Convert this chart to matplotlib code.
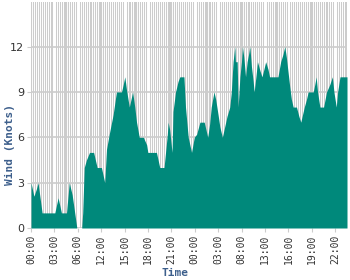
import matplotlib
matplotlib.use('Agg')
import matplotlib.pyplot as plt
from matplotlib.ticker import MultipleLocator, FixedLocator

# Breakpoints of the wind trace (sample index, knots)
sample_idx = [0, 1.5, 2.8, 3.6, 5.7, 12.2, 13.9, 15.6, 18.2, 19.6, 21.1, 23.5,
              26, 26.5, 27.3, 28.4, 30, 32.1, 33.9, 36.1, 37.8, 38.7, 40.1,
              42.1, 43.8, 46.4, 47.3, 48.1, 49, 50.4, 52.1, 53.2, 54.1, 55.5,
              57.6, 59.3, 59.9, 64.3, 66, 68.2, 68.9, 69.9, 70.3, 71.1, 72.3,
              72.8, 74.1, 75.4, 76.3, 78.4, 79.2, 80.6, 82.3, 83.7, 84.9,
              86.6, 88.8, 90.6, 91.6, 92.4, 93.8, 94.7, 95.9, 96.8, 98.1,
              99.3, 100.5, 101.9, 102.7, 103.6, 104.5, 104.8, 105.7, 106.2,
              107.1, 107.9, 108.4, 109.1, 110, 110.8, 111.7, 112.2, 113,
              113.9, 114.4, 115.3, 116.1, 117.4, 118.4, 119.4, 120.3, 121.5,
              122.3, 126.6, 128, 129.2, 130.1, 130.9, 131.8, 132.6, 133.5,
              134.4, 136.1, 137.3, 138.3, 140.1, 141.2, 142.1, 144.7, 145.5,
              146.2, 146.9, 148.1, 150, 151.5, 153.2, 154.5, 155.3, 156.5,
              157.2, 158.4, 162]
wind_knots = [3.0, 2.1, 2.6, 3.0, 1.0, 1.0, 2.0, 1.0, 1.0, 3.0, 2.2, 0.0,
              0.0, 1.0, 4.0, 4.5, 5.0, 5.0, 4.0, 4.0, 3.0, 5.2, 6.2,
              7.5, 9.0, 9.0, 9.5, 10.0, 9.1, 8.0, 9.0, 8.0, 7.0, 6.0,
              6.0, 5.5, 5.0, 5.0, 4.0, 4.0, 4.9, 6.2, 7.0, 6.5, 5.0,
              7.7, 9.0, 9.7, 10.0, 10.0, 8.0, 6.0, 5.0, 6.0, 6.2,
              7.0, 7.0, 6.0, 6.9, 8.0, 9.0, 8.5, 7.5, 6.7, 6.0,
              6.7, 7.4, 8.0, 9.0, 11.0, 12.0, 11.0, 11.0, 8.0,
              10.0, 11.0, 12.0, 11.3, 10.0, 11.0, 11.6, 12.0, 10.7,
              9.7, 9.0, 10.0, 11.0, 10.4, 10.0, 10.5, 11.0, 10.5,
              10.0, 10.0, 11.0, 11.5, 12.0, 11.3, 10.3, 9.4, 8.5,
              8.0, 8.0, 7.4, 7.0, 8.0, 8.5, 9.0, 9.0, 9.5,
              10.0, 9.0, 8.0, 8.0, 9.0, 9.5, 10.0, 9.0, 8.0,
              9.0, 10.0, 10.0]

tick_pos = [0, 12, 24, 36, 48, 60, 72, 84, 96, 108, 120, 132, 144, 156]
tick_labels = ['00:00', '03:00', '06:00', '12:00', '15:00', '18:00', '21:00',
               '00:00', '03:00', '08:00', '13:00', '16:00', '19:00', '22:00']

label_col = '#3d5f8c'
fill_col = '#00897b'
grid_col = '#cccccc'

fig = plt.figure(figsize=(3.5, 2.8), dpi=100)
ax = fig.add_axes([31/350, 1 - 228/280, 316/350, 226/280])

ax.fill_between(sample_idx, wind_knots, 0, color=fill_col, linewidth=0,
                zorder=3)

ax.set_xlim(0, 162)
ax.set_ylim(0, 14.95)

# dense minor vertical grid, one line per sample
ax.xaxis.set_minor_locator(MultipleLocator(1))
ax.grid(which='minor', axis='x', color=grid_col, linewidth=0.75, zorder=0)
for gx in range(0, 163, 18):
    ax.axvline(gx, color=grid_col, linewidth=1.5, zorder=1)
ax.yaxis.set_major_locator(MultipleLocator(3))
ax.grid(which='major', axis='y', color=grid_col, linewidth=1.2, zorder=1)

ax.xaxis.set_major_locator(FixedLocator(tick_pos))
ax.set_xticklabels(tick_labels, rotation=90, family='DejaVu Sans Mono',
                   fontsize=7, color='#333333')
ax.tick_params(axis='x', which='major', length=3, color=grid_col, pad=2)
ax.tick_params(axis='x', which='minor', length=0)
ax.tick_params(axis='y', length=3, color=grid_col, labelsize=8,
               labelcolor='#333333', pad=2)

for s in ax.spines.values():
    s.set_visible(False)

ax.set_ylabel('Wind (Knots)', family='DejaVu Sans Mono', fontweight='bold',
              fontsize=8, color=label_col)
ax.yaxis.set_label_coords(-0.052, 0.37)
ax.set_xlabel('Time', family='DejaVu Sans Mono', fontweight='bold',
              fontsize=8, color=label_col)
ax.xaxis.set_label_coords(0.456, -0.175)

fig.savefig('out.png', dpi=100)
